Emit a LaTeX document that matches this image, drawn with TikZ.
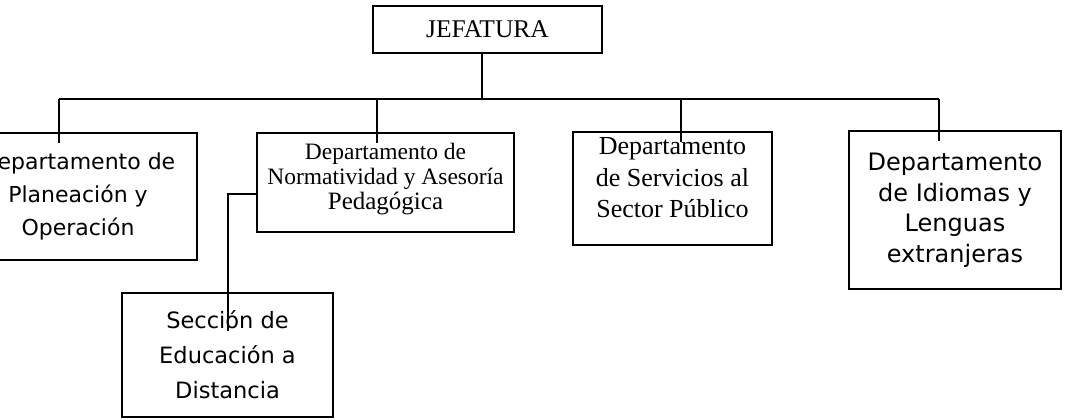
\documentclass[tikz,border=0pt]{standalone}
\usepackage{fontspec}
\setmainfont{Liberation Serif}
\newfontfamily\comicfont{DejaVu Sans}

\begin{document}
\begin{tikzpicture}[x=1pt,y=-1pt,
    caja/.style={draw, line width=1.1pt, align=center, inner sep=0pt},
    linea/.style={line width=1.1pt}]
  \useasboundingbox (0,0) rectangle (1066,420);
  \clip (0,0) rectangle (1066,420);

  % Jefatura
  \node[caja, minimum width=229pt, minimum height=47pt,
        font=\fontsize{25.5}{28}\selectfont] (jefatura) at (487.5,29.5) {JEFATURA};

  % Departamentos
  \node[caja, minimum width=238pt, minimum height=127pt,
        font=\comicfont\fontsize{22}{33}\selectfont] (planeacion) at (78,196.5)
        {Departamento de\\Planeación y\\Operación};
  \node[caja, minimum width=257pt, minimum height=99pt,
        font=\fontsize{23.5}{25}\selectfont] (normatividad) at (385.5,182.5)
        {Departamento de\\Normatividad y Asesoría\\{\fontsize{25}{27}\selectfont Pedagógica}\\[-13pt]\mbox{}};
  \node[caja, minimum width=199pt, minimum height=113pt,
        font=\fontsize{26}{31.5}\selectfont] (servicios) at (672.5,188.5)
        {Departamento\\de Servicios al\\Sector Público\\[-10pt]\mbox{}};
  \node[caja, minimum width=212pt, minimum height=158pt,
        font=\comicfont\fontsize{24}{30.5}\selectfont] (idiomas) at (955,210)
        {Departamento\\de Idiomas y\\Lenguas\\extranjeras};

  % Seccion
  \node[caja, minimum width=211pt, minimum height=124pt,
        font=\comicfont\fontsize{22.5}{35}\selectfont] (seccion) at (227.5,355)
        {Sección de\\Educación a\\Distancia};

  % Conectores
  \coordinate (bus) at (482,99);
  \coordinate (p1) at (59,99);
  \coordinate (p2) at (377,99);
  \coordinate (p3) at (681,99);
  \coordinate (p4) at (939,99);
  \coordinate (brk) at (228,194);

  \draw[linea] (jefatura.south -| bus) -- (bus);
  \draw[linea] (p1) -- (p4);
  \foreach \c/\n in {p1/planeacion, p2/normatividad, p3/servicios, p4/idiomas}
    \draw[linea] (\c) -- (\c |- \n.north) -- ++(0,11);

  \draw[linea] (normatividad.west |- brk) -- (brk) -- (brk |- seccion.north) -- ++(0,39);
\end{tikzpicture}
\end{document}
